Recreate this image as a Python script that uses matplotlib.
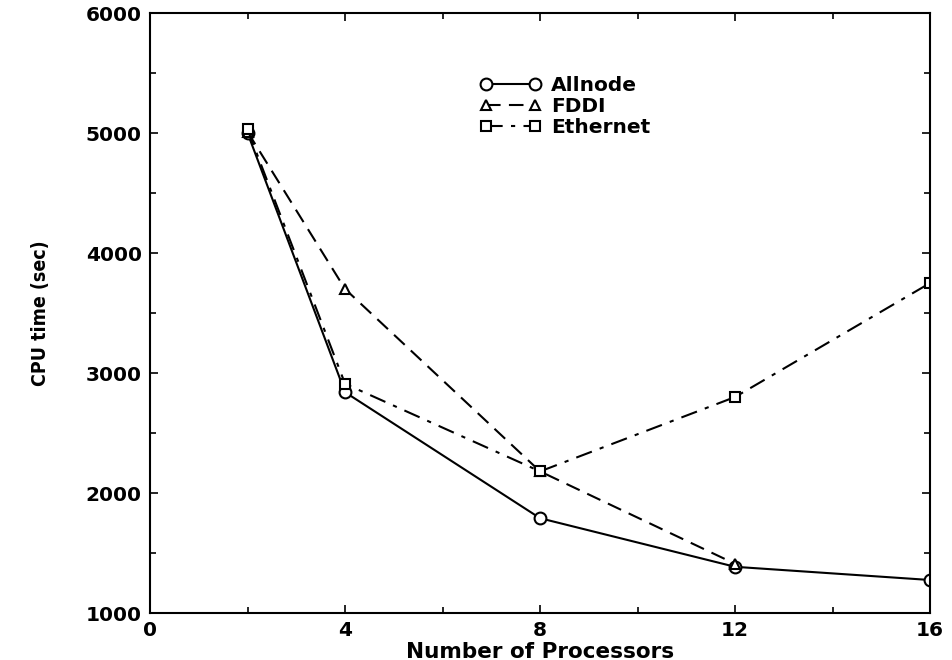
import numpy as np
import matplotlib
matplotlib.use('Agg')
import matplotlib.pyplot as plt
from matplotlib.ticker import MultipleLocator

# CPU time vs number of processors
procs = [2, 4, 8, 12, 16]
procs_fddi = [2, 4, 8, 12]
allnode = [5000, 2840, 1790, 1385, 1275]
fddi = [5010, 3700, 2180, 1410]
ethernet = [5030, 2910, 2180, 2800, 3750]

fig = plt.figure(figsize=(9.52, 6.6), dpi=100)
ax = fig.add_axes([0.1576, 0.0712, 0.8194, 0.9091])

ax.plot(procs, allnode, color='black', linestyle='-', linewidth=1.5,
		marker='o', markersize=8.5, markerfacecolor='white', markeredgewidth=1.5,
		label='Allnode')
ax.plot(procs_fddi, fddi, color='black', linestyle=(0, (7, 4)), linewidth=1.5,
		marker='^', markersize=7, markerfacecolor='white', markeredgewidth=1.5,
		label='FDDI')
ax.plot(procs, ethernet, color='black', linestyle=(0, (8, 4, 2, 4)), linewidth=1.5,
		marker='s', markersize=6.5, markerfacecolor='white', markeredgewidth=1.5,
		label='Ethernet')

ax.set_xlim(0, 16)
ax.set_ylim(1000, 6000)
ax.xaxis.set_major_locator(MultipleLocator(4))
ax.xaxis.set_minor_locator(MultipleLocator(2))
ax.yaxis.set_major_locator(MultipleLocator(1000))
ax.yaxis.set_minor_locator(MultipleLocator(500))
ax.tick_params(which='both', direction='in', top=True, right=True, width=1.2)
ax.tick_params(which='major', length=6, labelsize=14.5, pad=6)
ax.tick_params(which='minor', length=4)
for lbl in ax.get_xticklabels() + ax.get_yticklabels():
	lbl.set_fontweight('bold')
for sp in ax.spines.values():
	sp.set_linewidth(1.5)

ax.set_xlabel('Number of Processors', fontsize=15.5, fontweight='bold', labelpad=1)
ax.set_ylabel('CPU time (sec)', fontsize=14, fontweight='bold',
			  fontstretch='condensed', family='DejaVu Sans', labelpad=26)

leg = ax.legend(loc='upper left', bbox_to_anchor=(0.4, 0.925), frameon=False,
				numpoints=2, handlelength=3.0, handletextpad=0.5,
				labelspacing=0.1, prop={'weight': 'bold', 'size': 14.5})

fig.savefig('out.png', dpi=100)
